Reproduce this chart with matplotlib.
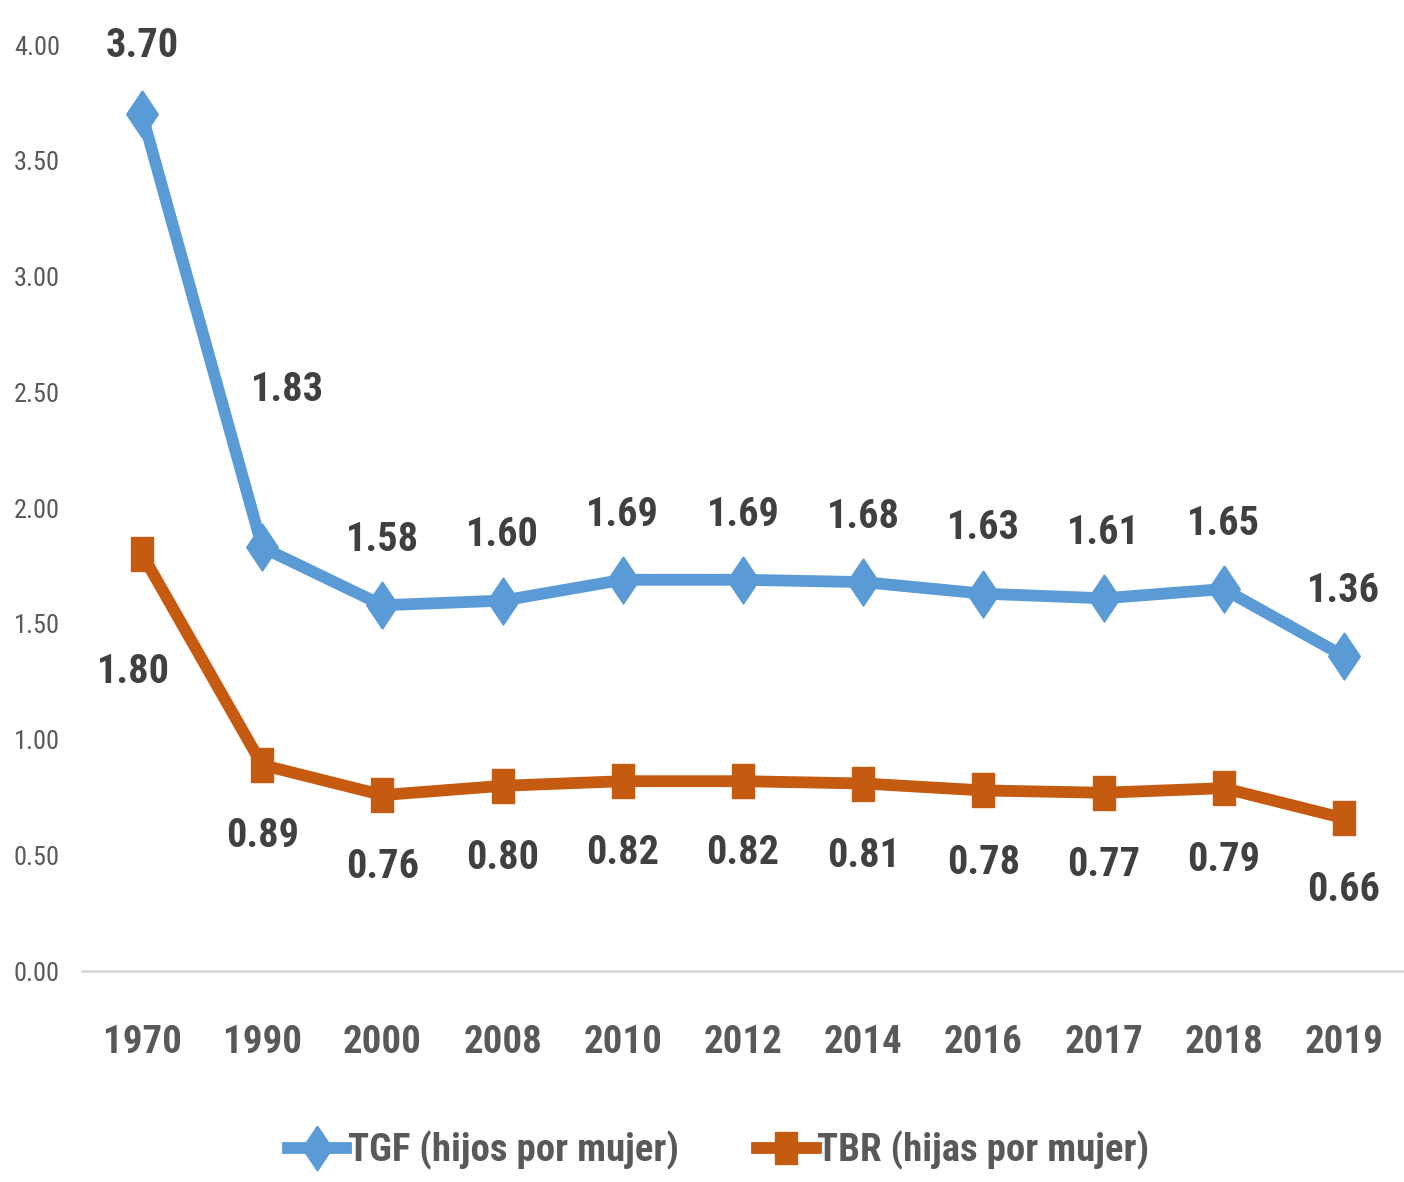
import matplotlib
matplotlib.use("Agg")
import matplotlib.pyplot as plt
from matplotlib import font_manager

years = ["1970", "1990", "2000", "2008", "2010", "2012", "2014", "2016", "2017", "2018", "2019"]
tgf = [3.70, 1.83, 1.58, 1.60, 1.69, 1.69, 1.68, 1.63, 1.61, 1.65, 1.36]
tbr = [1.80, 0.89, 0.76, 0.80, 0.82, 0.82, 0.81, 0.78, 0.77, 0.79, 0.66]
yticks = [0.0, 0.5, 1.0, 1.5, 2.0, 2.5, 3.0, 3.5, 4.0]
label_tgf = "TGF (hijos por mujer)"
label_tbr = "TBR (hijas por mujer)"

names = {f.name for f in font_manager.fontManager.ttflist}
fam = [n for n in ["Liberation Sans Narrow", "DejaVu Sans Condensed", "Roboto Condensed", "DejaVu Sans"] if n in names]
plt.rcParams['font.family'] = fam + ["DejaVu Sans"]

blue = "#5B9BD5"
orange = "#C55A11"
dark = "#404040"
gray = "#595959"

fig = plt.figure(figsize=(14.04, 11.82), dpi=100)
ax = fig.add_axes([0.0584, 0.1785, 0.9416, 0.7834])

x = list(range(len(years)))
diamond = [(0, 1), (0.67, 0), (0, -1), (-0.67, 0), (0, 1)]
rect = [(-0.66, -1), (0.66, -1), (0.66, 1), (-0.66, 1), (-0.66, -1)]

ax.plot(x, tgf, color=blue, lw=8.5, marker=diamond, ms=34, mec=blue, mfc=blue,
        solid_joinstyle='round', clip_on=False, label=label_tgf, zorder=3)
ax.plot(x, tbr, color=orange, lw=8.5, marker=rect, ms=25, mec=orange, mfc=orange,
        clip_on=False, label=label_tbr, zorder=3)

# label offsets (points)
off_tgf = [(0, 49), (18, 113), (0, 47), (0, 47), (0, 47), (0, 47), (0, 47), (0, 47), (0, 47), (0, 47), (0, 47)]
off_tbr = [(-6, -85), (0, -51), (0, -52), (0, -52), (0, -52), (0, -52), (0, -52), (0, -52), (0, -52), (0, -52), (0, -52)]

for i in x:
    ax.annotate(f"{tgf[i]:.2f}", (x[i], tgf[i]), xytext=off_tgf[i], textcoords='offset points',
                ha='center', va='center', fontsize=29, fontweight='bold', color=dark, annotation_clip=False)
    ax.annotate(f"{tbr[i]:.2f}", (x[i], tbr[i]), xytext=off_tbr[i], textcoords='offset points',
                ha='center', va='center', fontsize=29, fontweight='bold', color=dark, annotation_clip=False)

ax.set_xlim(-0.5, len(years) - 0.5)
ax.set_ylim(0, 4.0)
ax.set_yticks(yticks)
ax.set_yticklabels([f"{v:.2f}" for v in yticks])
ax.set_xticks(x)
ax.set_xticklabels(years)
ax.tick_params(axis='y', length=0, pad=16, labelsize=19, labelcolor=gray)
ax.tick_params(axis='x', length=0, pad=38, labelsize=28, labelcolor=gray)
for lab in ax.get_xticklabels():
    lab.set_fontweight('bold')

for s in ['top', 'right', 'left']:
    ax.spines[s].set_visible(False)
ax.spines['bottom'].set_color("#D9D9D9")
ax.spines['bottom'].set_linewidth(2)

leg = fig.legend(loc='center', bbox_to_anchor=(0.512, 0.027), ncol=2, frameon=False,
                 fontsize=28, handlelength=1.5, handletextpad=0.05, columnspacing=2.0,
                 markerscale=0.95)
for t in leg.get_texts():
    t.set_color(gray)
    t.set_fontweight('bold')

fig.savefig("out.png", dpi=100)
